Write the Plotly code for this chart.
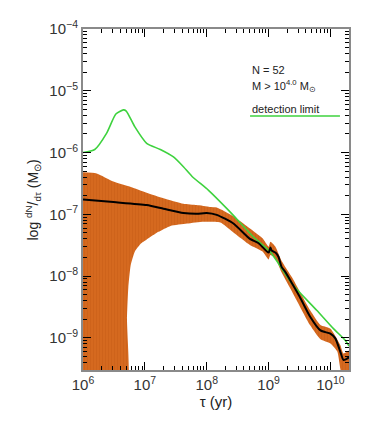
import plotly.graph_objects as go

# ---- data (tau in yr, dN/dtau in Msun) ----
green_tau = [1.0e6, 1.55e6, 2.4e6, 3.4e6, 4.5e6, 5.0e6, 6.9e6, 1.07e7, 1.78e7,
             2.9e7, 4.2e7, 5.8e7, 1.07e8, 2.24e8, 6.0e8, 1.07e9, 2.5e9, 6.0e9,
             1.12e10, 1.74e10, 2.0e10]
green_val = [1.0e-6, 1.12e-6, 2.04e-6, 4.2e-6, 4.9e-6, 4.7e-6, 2.6e-6, 1.41e-6,
             1.12e-6, 8.5e-7, 5.9e-7, 4.1e-7, 2.45e-7, 1.17e-7, 4.1e-8, 2.45e-8,
             7.1e-9, 2.8e-9, 1.41e-9, 9.1e-10, 7.4e-10]

black_tau = [1.0e6, 3.1e6, 1.07e7, 2.0e7, 4.2e7, 6.9e7, 1.0e8, 1.45e8, 2.7e8,
             5.0e8, 6.9e8, 1.0e9, 1.07e9, 1.12e9, 1.29e9, 1.45e9, 1.62e9,
             1.86e9, 2.4e9, 3.2e9, 4.7e9, 6.9e9, 1.0e10, 1.2e10, 1.45e10,
             1.62e10, 1.86e10, 2.0e10]
black_val = [1.74e-7, 1.58e-7, 1.41e-7, 1.23e-7, 1.05e-7, 1.02e-7, 1.05e-7,
             9.8e-8, 7.1e-8, 4.0e-8, 3.4e-8, 2.4e-8, 2.9e-8, 2.6e-8, 2.4e-8,
             2.04e-8, 1.41e-8, 1.17e-8, 7.6e-9, 4.6e-9, 2.2e-9, 1.32e-9,
             1.17e-9, 9.8e-10, 5.9e-10, 4.4e-10, 4.6e-10, 4.9e-10]

band_up_tau = [1.0e6, 1.66e6, 3.1e6, 5.8e6, 1.07e7, 2.0e7, 4.2e7, 6.9e7,
               1.12e8, 1.45e8, 2.7e8, 5.0e8, 8.0e8, 1.0e9, 1.07e9, 1.29e9,
               1.62e9, 2.4e9, 4.7e9, 6.9e9, 1.0e10, 1.45e10, 1.62e10, 2.0e10]
band_up_val = [4.8e-7, 4.6e-7, 3.4e-7, 2.8e-7, 2.24e-7, 1.82e-7, 1.48e-7,
               1.41e-7, 1.32e-7, 1.29e-7, 9.3e-8, 5.9e-8, 4.1e-8, 3.0e-8,
               3.6e-8, 3.0e-8, 1.78e-8, 9.5e-9, 2.8e-9, 1.62e-9, 1.41e-9,
               7.6e-10, 5.6e-10, 6.2e-10]

band_lo_tau = [1.0e6, 5.0e6, 5.15e6, 5.4e6, 5.9e6, 6.9e6, 8.5e6, 1.07e7,
               1.66e7, 2.6e7, 4.8e7, 8.9e7, 1.66e8, 2.7e8, 5.0e8, 8.0e8,
               1.0e9, 1.07e9, 1.29e9, 1.62e9, 2.4e9, 4.7e9, 6.9e9, 1.0e10,
               1.29e10, 1.45e10, 1.9e10, 2.0e10]
band_lo_val = [1.0e-10, 1.0e-10, 2.0e-9, 6.5e-9, 1.5e-8, 2.5e-8, 3.3e-8,
               3.9e-8, 5.2e-8, 6.5e-8, 7.1e-8, 7.6e-8, 7.4e-8, 5.1e-8,
               3.2e-8, 2.5e-8, 1.86e-8, 2.2e-8, 1.95e-8, 1.15e-8, 5.6e-9,
               1.6e-9, 9.5e-10, 8.1e-10, 6.0e-10, 3.1e-10, 1.0e-10, 2.0e-10]

x_ticks = [1e6, 1e7, 1e8, 1e9, 1e10]
x_ticktext = ["10<sup>6</sup>", "10<sup>7</sup>", "10<sup>8</sup>",
              "10<sup>9</sup>", "10<sup>10</sup>"]
y_ticks = [1e-9, 1e-8, 1e-7, 1e-6, 1e-5, 1e-4]
y_ticktext = ["10<sup>−9</sup>", "10<sup>−8</sup>", "10<sup>−7</sup>",
              "10<sup>−6</sup>", "10<sup>−5</sup>", "10<sup>−4</sup>"]
x_minor = [m * 10.0 ** e for e in range(6, 11) for m in range(2, 10)]
y_minor = [m * 10.0 ** e for e in range(-10, -4) for m in range(2, 10)]

ORANGE = "#D5691F"
GREEN = "#3ED23E"
FONT = "Liberation Sans"

fig = go.Figure()

# orange uncertainty band (polygon: upper forward, lower reversed)
fig.add_trace(go.Scatter(
    x=band_up_tau + band_lo_tau[::-1],
    y=band_up_val + band_lo_val[::-1],
    mode="lines", line=dict(width=0, shape="spline", smoothing=0.5),
    fill="toself", fillcolor=ORANGE,
    fillpattern=dict(shape="|", size=3, solidity=0.25,
                     fgcolor="#C25A15", bgcolor=ORANGE),
    hoverinfo="skip", showlegend=False))

fig.add_trace(go.Scatter(x=green_tau, y=green_val, mode="lines",
                         line=dict(color=GREEN, width=1.6, shape="spline",
                                   smoothing=0.6),
                         showlegend=False))
fig.add_trace(go.Scatter(x=black_tau, y=black_val, mode="lines",
                         line=dict(color="black", width=2, shape="spline",
                                   smoothing=0.6),
                         showlegend=False))

axis_common = dict(
    type="log", showgrid=False, zeroline=False, automargin=False,
    showline=True, linecolor="#8a8a8a", linewidth=2, mirror="ticks",
    ticks="inside", ticklen=8, tickcolor="black", tickwidth=1,
    tickfont=dict(family=FONT, size=15, color="#333"),
)

fig.update_xaxes(range=[6, 10.3], tickvals=x_ticks, ticktext=x_ticktext,
                 minor=dict(ticks="inside", ticklen=4, tickcolor="black",
                            tickwidth=1, showgrid=False, tickmode="array",
                            tickvals=x_minor),
                 **axis_common)
fig.update_yaxes(range=[-9.52, -4], tickvals=y_ticks, ticktext=y_ticktext,
                 minor=dict(ticks="inside", ticklen=4, tickcolor="black",
                            tickwidth=1, showgrid=False, tickmode="array",
                            tickvals=y_minor),
                 **axis_common)

fig.update_layout(
    width=374, height=423,
    margin=dict(l=75, r=33, t=21, b=61),
    plot_bgcolor="white", paper_bgcolor="white",
    font=dict(family=FONT, color="#222"),
    xaxis_title=dict(text="τ (yr)", font=dict(size=15), standoff=4),
    annotations=[
        dict(text="log <sup>dN</sup>/<sub>dτ</sub> (M<sub>⊙</sub>)",
             xref="paper", yref="paper", x=-0.188, y=0.5, textangle=-90,
             xanchor="center", yanchor="middle",
             showarrow=False, font=dict(size=14)),
        dict(text="N = 52", xref="paper", yref="paper", x=0.628, y=0.904,
             xanchor="left", showarrow=False, font=dict(size=11)),
        dict(text="M > 10<sup>4.0</sup> M<sub>⊙</sub>", xref="paper",
             yref="paper", x=0.628, y=0.861, xanchor="left",
             showarrow=False, font=dict(size=11)),
        dict(text="detection limit", xref="paper", yref="paper", x=0.628,
             y=0.766, xanchor="left", yanchor="middle",
             showarrow=False, font=dict(size=11)),
    ],
    shapes=[dict(type="line", xref="paper", yref="paper", x0=0.628, x1=0.966,
                 y0=0.745, y1=0.745, line=dict(color=GREEN, width=1.6))],
)

fig.write_html("out.html")
